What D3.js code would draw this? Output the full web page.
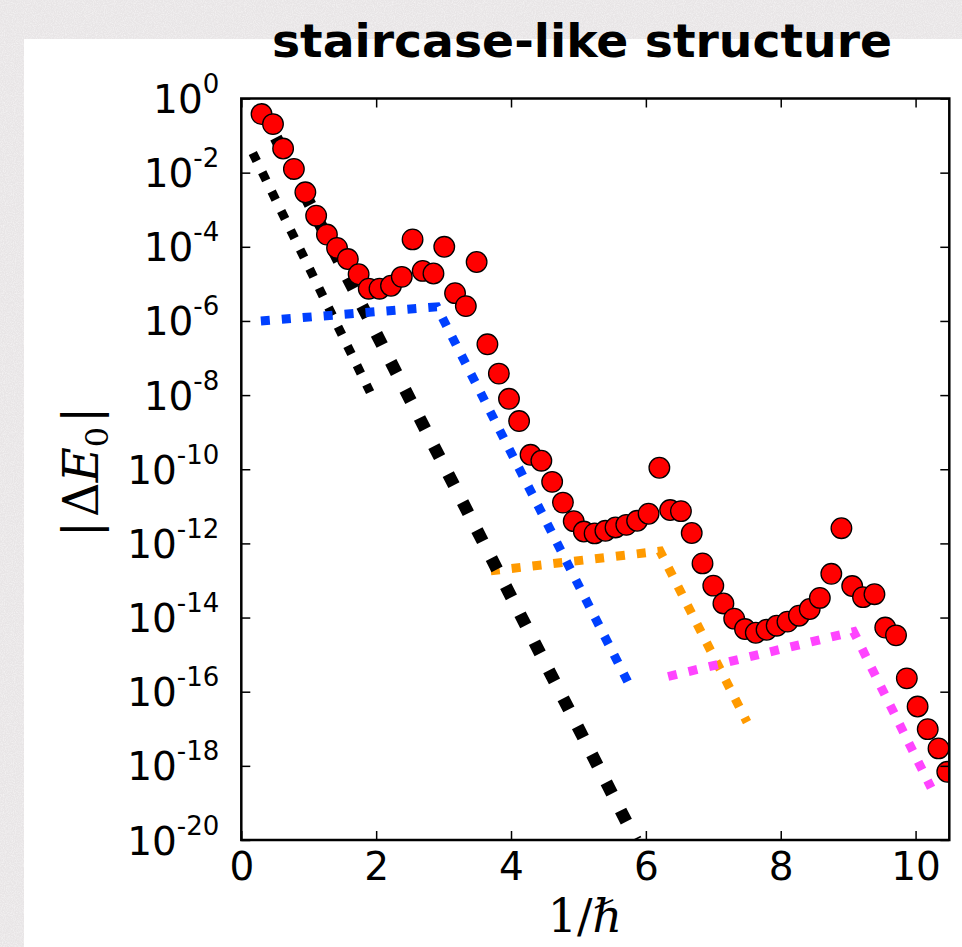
<!DOCTYPE html>
<html>
<head>
<meta charset="utf-8">
<script src="https://cdn.jsdelivr.net/npm/d3@7/dist/d3.min.js"></script>
<style>
  html, body { margin: 0; padding: 0; background: #ebe8e9; }
  svg { display: block; }
</style>
</head>
<body>
<svg id="chart" width="962" height="947"></svg>
<script>
// ---------------- data ----------------
const invHbar = [0.30,0.47,0.62,0.78,0.95,1.11,1.27,1.42,1.58,1.74,1.89,2.05,2.22,2.38,2.54,2.69,2.85,3.01,3.17,3.33,3.49,3.65,3.82,3.97,4.12,4.29,4.45,4.61,4.77,4.93,5.08,5.24,5.40,5.55,5.71,5.87,6.04,6.20,6.36,6.52,6.68,6.84,7.00,7.15,7.31,7.47,7.63,7.79,7.94,8.10,8.27,8.43,8.58,8.75,8.90,9.06,9.22,9.39,9.55,9.71,9.87,10.03,10.18,10.34,10.47];
// log10 |ΔE0|
const log10DeltaE0 = [-0.42,-0.69,-1.35,-1.90,-2.53,-3.16,-3.67,-4.03,-4.33,-4.74,
  -5.13,-5.13,-5.05,-4.81,-3.80,-4.65,-4.72,-4.00,-5.25,-5.60,
  -4.41,-6.63,-7.42,-8.10,-8.70,-9.61,-9.77,-10.34,-10.90,-11.40,
  -11.68,-11.73,-11.66,-11.57,-11.50,-11.39,-11.20,-9.96,-11.10,-11.13,
  -11.72,-12.54,-13.14,-13.62,-14.03,-14.31,-14.41,-14.33,-14.22,-14.11,
  -13.95,-13.77,-13.47,-12.82,-11.59,-13.15,-13.45,-13.37,-14.27,-14.48,
  -15.64,-16.40,-17.01,-17.53,-18.16];

// guide lines: [1/hbar, log10 |ΔE0|]
const blackLineA   = [[0.17,-1.47],[1.91,-7.92]];
const blackLineB   = [[0.30,-0.30],[5.85,-20.0]];
const blueLine     = [[0.29,-6.00],[2.90,-5.62],[5.75,-15.80]];
const orangeLine   = [[3.70,-12.74],[6.21,-12.21],[7.50,-16.82]];
const magentaLine  = [[6.33,-15.59],[9.08,-14.38],[10.23,-18.59]];

const xTicks = [0,2,4,6,8,10];
const yTickExps = [0,-2,-4,-6,-8,-10,-12,-14,-16,-18,-20];
const titleText = "staircase-like structure";

// ---------------- layout ----------------
const svg = d3.select("#chart");
const X0 = 241.3, X1 = 949.3, Y0 = 98.5, Y1 = 840;

const x = d3.scaleLinear().domain([0, 10.5]).range([X0, X1]);
const y = d3.scaleLog().domain([1e-20, 1]).range([Y1, Y0]);

// background with subtle texture
const defs = svg.append("defs");
const f = defs.append("filter").attr("id","noise").attr("x",0).attr("y",0).attr("width","100%").attr("height","100%");
f.append("feTurbulence").attr("type","fractalNoise").attr("baseFrequency",0.9).attr("numOctaves",2).attr("seed",3).attr("result","n");
f.append("feColorMatrix").attr("in","n").attr("type","matrix")
  .attr("values","0 0 0 0 1  0 0 0 0 1  0 0 0 0 1  -1.2 0 0 0 0.75");
svg.append("rect").attr("width",962).attr("height",947).attr("fill","#e8e5e6");
svg.append("rect").attr("width",962).attr("height",947).attr("filter","url(#noise)").attr("opacity",0.8);

// white panel
svg.append("rect").attr("x",24).attr("y",39).attr("width",962-24).attr("height",947-39).attr("fill","#ffffff");

// clip
defs.append("clipPath").attr("id","plotclip").append("rect")
  .attr("x",X0).attr("y",Y0).attr("width",X1-X0).attr("height",Y1-Y0);

// title
svg.append("text")
  .attr("x", 582).attr("y", 57)
  .attr("text-anchor","middle")
  .attr("font-family","'DejaVu Sans', sans-serif")
  .attr("font-weight","bold")
  .attr("font-size", 46)
  .attr("textLength", 620).attr("lengthAdjust","spacingAndGlyphs")
  .attr("fill","#000")
  .text(titleText);

// plot group
const plot = svg.append("g").attr("clip-path","url(#plotclip)");

const line = d3.line().x(d => x(d[0])).y(d => y(Math.pow(10, d[1])));
const guides = [
  {data: orangeLine, color: "#ff9a00", w: 9, gap: 12},
  {data: magentaLine, color: "#ff44ff", w: 9, gap: 12},
  {data: blackLineA, color: "#000000", w: 9, gap: 12.5},
  {data: blackLineB, color: "#000000", w: 12.5, gap: 19},
  {data: blueLine, color: "#0040ff", w: 9, gap: 12}
];
plot.selectAll("path.guide").data(guides).enter().append("path")
  .attr("class","guide")
  .attr("d", d => line(d.data))
  .attr("fill","none")
  .attr("stroke", d => d.color)
  .attr("stroke-width", d => d.w)
  .attr("stroke-dasharray", d => `${d.w} ${d.gap}`)
  .attr("stroke-linecap","butt")
  .attr("stroke-linejoin","miter");

const pts = invHbar.map((v,i) => ({x: v, e: Math.pow(10, log10DeltaE0[i])}));
plot.selectAll("circle.pt").data(pts).enter().append("circle")
  .attr("class","pt")
  .attr("cx", d => x(d.x))
  .attr("cy", d => y(d.e))
  .attr("r", 10.3)
  .attr("fill", "#ff0000")
  .attr("stroke", "#000")
  .attr("stroke-width", 1.3);

// axes (inward ticks)
const yTickVals = yTickExps.map(e => Math.pow(10, e));
const axisStyle = g => {
  g.select(".domain").remove();
  g.selectAll(".tick line").attr("stroke","#000").attr("stroke-width",1.5);
};
const gLeft = svg.append("g").attr("transform",`translate(${X0},0)`)
  .call(d3.axisLeft(y).tickValues(yTickVals).tickSize(-9).tickFormat(""))
  .call(axisStyle);
svg.append("g").attr("transform",`translate(${X1},0)`)
  .call(d3.axisRight(y).tickValues(yTickVals).tickSize(-9).tickFormat(""))
  .call(axisStyle);
const gBottom = svg.append("g").attr("transform",`translate(0,${Y1})`)
  .call(d3.axisBottom(x).tickValues(xTicks).tickSize(-9).tickFormat(""))
  .call(axisStyle);
svg.append("g").attr("transform",`translate(0,${Y0})`)
  .call(d3.axisTop(x).tickValues(xTicks).tickSize(-9).tickFormat(""))
  .call(axisStyle);

// y tick labels 10^n
gLeft.selectAll(".tick").each(function(d, i) {
  const t = d3.select(this).append("text")
    .attr("x", -22).attr("y", 14)
    .attr("text-anchor","end")
    .attr("fill","#000")
    .attr("font-family","'DejaVu Sans', sans-serif")
    .attr("font-size", 39);
  t.append("tspan").text("10");
  t.append("tspan").attr("dy", -20).attr("font-size", 26).text(String(yTickExps[i]));
});

// x tick labels
gBottom.selectAll(".tick").each(function(d) {
  d3.select(this).append("text")
    .attr("x", 0).attr("y", 40)
    .attr("text-anchor","middle")
    .attr("fill","#000")
    .attr("font-family","'DejaVu Sans', sans-serif")
    .attr("font-size", 39)
    .text(d);
});

// frame
svg.append("rect").attr("x",X0).attr("y",Y0).attr("width",X1-X0).attr("height",Y1-Y0)
  .attr("fill","none").attr("stroke","#000").attr("stroke-width",2.5);

// y label |ΔE0|
const yl = svg.append("text")
  .attr("transform","translate(98,472) rotate(-90)")
  .attr("text-anchor","middle")
  .attr("font-family","'DejaVu Serif', 'Liberation Serif', serif")
  .attr("font-size", 48)
  .attr("fill","#000");
yl.append("tspan").text("|");
yl.append("tspan").attr("dx", 4).text("Δ");
yl.append("tspan").attr("font-style","italic").text("E");
yl.append("tspan").attr("font-size", 32).attr("dy", 10).text("0");
yl.append("tspan").attr("dy", -10).attr("dx", 4).text("|");

// x label 1/ℏ
const xl = svg.append("text")
  .attr("x", 585).attr("y", 932)
  .attr("text-anchor","middle")
  .attr("font-family","'DejaVu Serif', 'Liberation Serif', serif")
  .attr("font-size", 46)
  .attr("fill","#000");
xl.append("tspan").text("1/");
xl.append("tspan").attr("font-style","italic").text("ℏ");
</script>
</body>
</html>
